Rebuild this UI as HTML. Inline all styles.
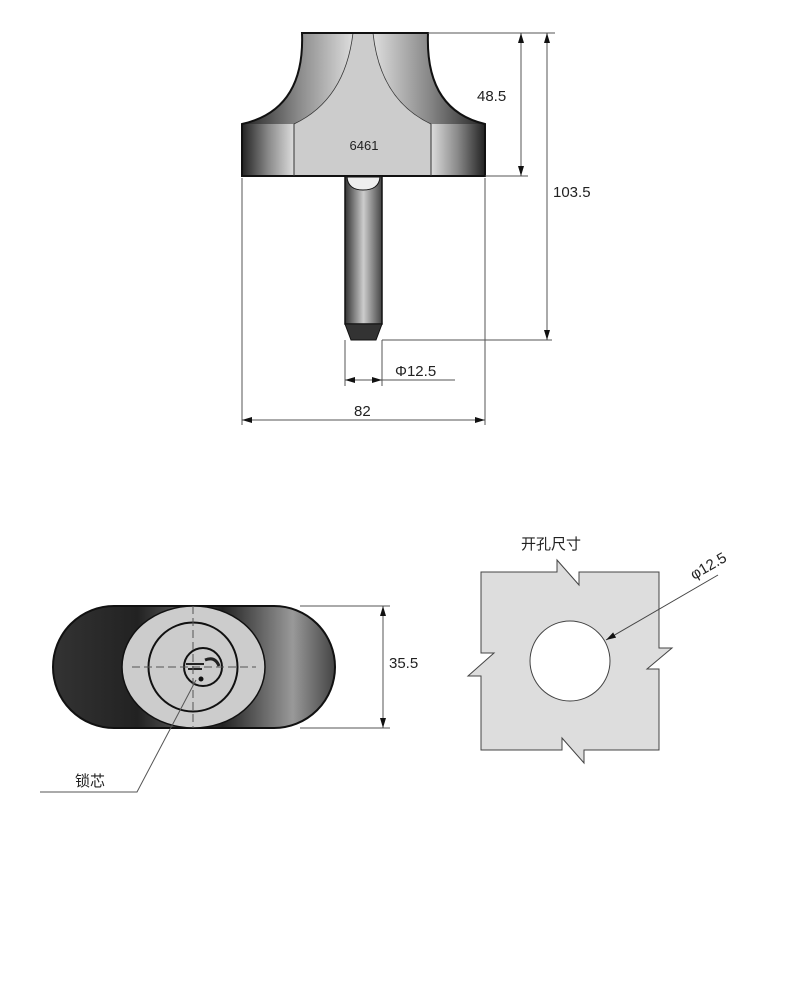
<!DOCTYPE html>
<html><head><meta charset="utf-8"><style>body{margin:0;background:#fff}svg{display:block}text{font-family:"Liberation Sans","Noto Sans CJK SC",sans-serif;fill:#222}</style></head>
<body>
<svg width="788" height="1000" viewBox="0 0 788 1000" xmlns="http://www.w3.org/2000/svg">
<defs>
<linearGradient id="gl" x1="0" x2="1"><stop offset="0" stop-color="#222"/><stop offset="0.5" stop-color="#888"/><stop offset="1" stop-color="#ddd"/></linearGradient>
<linearGradient id="gr" x1="0" x2="1"><stop offset="0" stop-color="#ddd"/><stop offset="0.5" stop-color="#888"/><stop offset="1" stop-color="#222"/></linearGradient>
<linearGradient id="gs" x1="0" x2="1"><stop offset="0" stop-color="#333"/><stop offset="0.5" stop-color="#ccc"/><stop offset="1" stop-color="#444"/></linearGradient>
<linearGradient id="go" x1="0" x2="1"><stop offset="0" stop-color="#333"/><stop offset="0.3" stop-color="#222"/><stop offset="0.45" stop-color="#555"/><stop offset="0.6" stop-color="#222"/><stop offset="0.85" stop-color="#999"/><stop offset="1" stop-color="#444"/></linearGradient>
<marker id="a" markerWidth="10" markerHeight="6" refX="10" refY="3" orient="auto" markerUnits="userSpaceOnUse"><path d="M0,0L10,3L0,6z" fill="#111"/></marker>
</defs>
<path d="M302,33 Q305,110 242,124 L294,124 Q345,100 353,33 Z" fill="url(#gl)"/>
<path d="M428,33 Q425,110 485,124 L431,124 Q380,100 373,33 Z" fill="url(#gr)"/>
<path d="M353,33 Q345,100 294,124 L294,176 L431,176 L431,124 Q380,100 373,33 Z" fill="#ccc" stroke="#333" stroke-width="0.8"/>
<rect x="242" y="124" width="52" height="52" fill="url(#gl)"/>
<rect x="431" y="124" width="54" height="52" fill="url(#gr)"/>
<path d="M302,33 Q305,110 242,124 L242,176 L485,176 L485,124 Q425,110 428,33 Z" fill="none" stroke="#111" stroke-width="2"/>
<line x1="294" y1="124" x2="294" y2="176" stroke="#333"/><line x1="431" y1="124" x2="431" y2="176" stroke="#333"/>
<text x="364" y="150" font-size="13" text-anchor="middle">6461</text>
<rect x="345" y="176" width="37" height="148" fill="url(#gs)" stroke="#111" stroke-width="1.5"/>
<path d="M347,177 Q348,190 363,190 Q379,190 380,177Z" fill="#eee" stroke="#111"/>
<path d="M345,324 L382,324 L376,340 L351,340Z" fill="#333" stroke="#111"/>
<g stroke="#555" stroke-width="1" fill="none">
<line x1="428" y1="33" x2="555" y2="33"/><line x1="485" y1="176" x2="528" y2="176"/><line x1="382" y1="340" x2="552" y2="340"/>
<line x1="242" y1="178" x2="242" y2="425"/><line x1="485" y1="178" x2="485" y2="425"/>
<line x1="345" y1="340" x2="345" y2="386"/><line x1="382" y1="340" x2="382" y2="386"/>
<line x1="521" y1="45" x2="521" y2="33" marker-end="url(#a)"/><line x1="521" y1="45" x2="521" y2="176" marker-end="url(#a)"/>
<line x1="547" y1="50" x2="547" y2="33" marker-end="url(#a)"/><line x1="547" y1="50" x2="547" y2="340" marker-end="url(#a)"/>
<line x1="300" y1="420" x2="242" y2="420" marker-end="url(#a)"/><line x1="300" y1="420" x2="485" y2="420" marker-end="url(#a)"/>
<line x1="363" y1="380" x2="345" y2="380" marker-end="url(#a)"/><line x1="363" y1="380" x2="455" y2="380"/><line x1="363" y1="380" x2="382" y2="380" marker-end="url(#a)"/>
</g>
<text x="477" y="101" font-size="15">48.5</text>
<text x="553" y="197" font-size="15">103.5</text>
<text x="395" y="376" font-size="15">Φ12.5</text>
<text x="354" y="416" font-size="15">82</text>
<path d="M114,606 L274,606 A61,61 0 0 1 274,728 L114,728 A61,61 0 0 1 114,606Z" fill="url(#go)" stroke="#111" stroke-width="2"/>
<ellipse cx="193.5" cy="667" rx="71.5" ry="61" fill="#ccc" stroke="#111" stroke-width="1.5"/>
<circle cx="193" cy="667" r="44.5" fill="none" stroke="#111" stroke-width="2"/>
<circle cx="203" cy="667" r="19" fill="none" stroke="#111" stroke-width="2"/>
<path d="M186,664 h18 M188,669 h14" stroke="#222" stroke-width="2"/>
<path d="M205,660 q10,-4 14,6" stroke="#222" stroke-width="3" fill="none"/>
<circle cx="201" cy="679" r="2.5" fill="#111"/>
<g stroke="#555" stroke-width="1" stroke-dasharray="8,4"><line x1="132" y1="667" x2="256" y2="667"/><line x1="193" y1="606" x2="193" y2="728"/></g>
<polyline points="196,680 137,792 40,792" fill="none" stroke="#555"/>
<text x="75" y="786" font-size="15">锁芯</text>
<g stroke="#555" fill="none"><line x1="300" y1="606" x2="390" y2="606"/><line x1="300" y1="728" x2="390" y2="728"/>
<line x1="383" y1="660" x2="383" y2="606" marker-end="url(#a)"/><line x1="383" y1="660" x2="383" y2="728" marker-end="url(#a)"/></g>
<text x="389" y="668" font-size="15">35.5</text>
<text x="521" y="549" font-size="15">开孔尺寸</text>
<polygon points="481,572 557,572 557,560 579,585 579,572 659,572 659,648 672,648 647,669 659,669 659,750 584,750 584,763 562,738 562,750 481,750 481,676 468,676 494,653 481,653" fill="#ddd" stroke="#444" stroke-width="1"/>
<circle cx="570" cy="661" r="40" fill="#fff" stroke="#444"/>
<line x1="718" y1="575" x2="606" y2="640" stroke="#444" marker-end="url(#a)"/>
<text x="0" y="0" font-size="15" transform="translate(694,580) rotate(-30)">φ12.5</text>
</svg>
</body></html>
